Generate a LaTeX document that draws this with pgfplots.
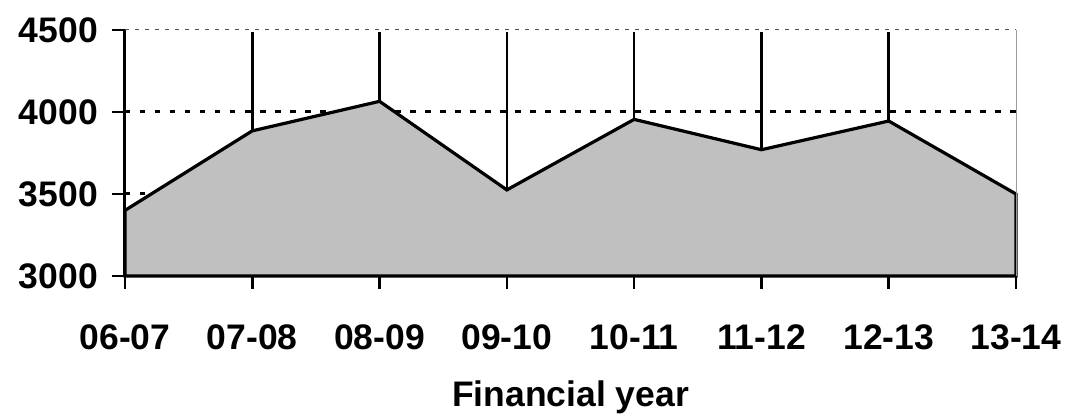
\documentclass[border=0pt]{standalone}
\usepackage{fontspec}
\setmainfont{Liberation Sans}
\usepackage{pgfplots}
\pgfplotsset{compat=1.18}
\definecolor{areagray}{HTML}{C0C0C0}
\definecolor{topgrid}{HTML}{555555}

\begin{document}
\begin{tikzpicture}
\useasboundingbox (-125pt,-138pt) rectangle (945pt,276pt);
\begin{axis}[
  scale only axis,
  width=891pt, height=246pt,
  xmin=0, xmax=7,
  ymin=3000, ymax=4500,
  clip=false,
  axis x line*=bottom,
  axis y line*=left,
  axis line style={line width=3pt, black},
  xtick={0,...,7},
  xticklabels={06-07,07-08,08-09,09-10,10-11,11-12,12-13,13-14},
  ytick={3000,3500,4000},
  extra y ticks={4500},
  extra y tick style={
    major grid style={draw=topgrid, line width=1pt, dash pattern=on 4pt off 6pt},
  },
  ymajorgrids,
  major grid style={black, line width=3pt, dash pattern=on 5.5pt off 9.5pt},
  tick align=outside,
  major tick length=13pt,
  tick style={line width=2.5pt, black},
  /pgf/number format/assume math mode=true,
  /pgf/number format/1000 sep={},
  ticklabel style={font=\fontsize{35.5}{40}\selectfont\bfseries},
  xticklabel style={anchor=base, yshift=-60pt},
  yticklabel style={inner sep=0pt, anchor=east, xshift=-14pt},
  xlabel={Financial year},
  xlabel style={font=\fontsize{35.5}{40}\selectfont\bfseries,
    at={(axis description cs:0.5,0)}, anchor=base, yshift=-130pt},
]
% shaded totals per financial year
\addplot[draw=black, line width=3.2pt, fill=areagray, line join=miter]
  coordinates {(0,3400) (1,3885) (2,4065) (3,3525) (4,3955) (5,3770) (6,3945) (7,3500)}
  \closedcycle;
% vertical guide from each year's value up to the top
\addplot[draw=none, mark=none,
  error bars/.cd, y dir=plus, y explicit, error mark=none,
  error bar style={line width=2.5pt, black}]
  table[x=x, y=y, y error=e] {
  x y    e
  0 3400 1085
  1 3885 600
  2 4065 420
  3 3525 960
  4 3955 530
  5 3770 715
  6 3945 540
  7 3500 0
};
\draw[areagray!80!black, line width=1pt] (rel axis cs:1,0) -- (rel axis cs:1,1);
\end{axis}
\end{tikzpicture}
\end{document}
